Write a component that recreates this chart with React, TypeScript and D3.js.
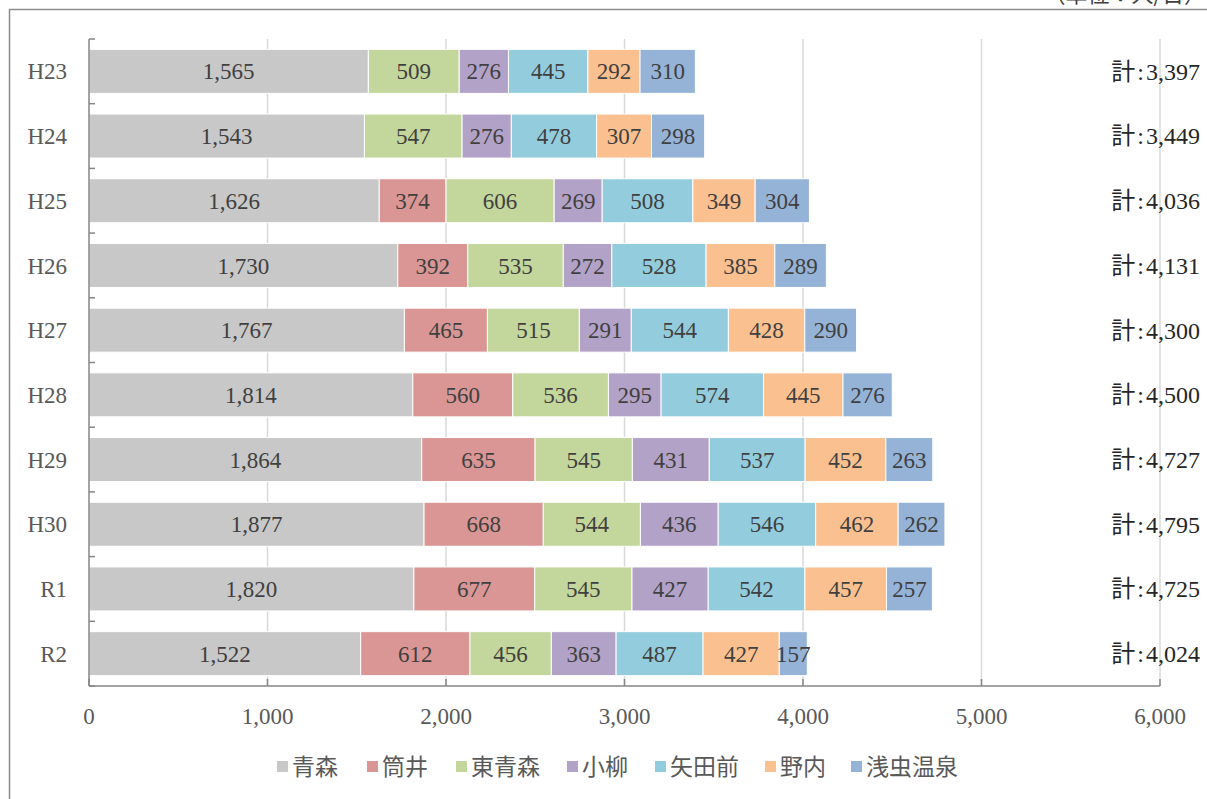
import React from "react";
import * as d3 from "d3";

const categories = ["H23", "H24", "H25", "H26", "H27", "H28", "H29", "H30", "R1", "R2"];
const seriesNames = ["青森", "筒井", "東青森", "小柳", "矢田前", "野内", "浅虫温泉"];
const seriesColors = ["#c8c8c8", "#d99694", "#c3d69b", "#b3a2c7", "#93cddd", "#fac090", "#95b3d7"];
const aomori = [1565, 1543, 1626, 1730, 1767, 1814, 1864, 1877, 1820, 1522];
const tsutsui = [0, 0, 374, 392, 465, 560, 635, 668, 677, 612];
const higashiAomori = [509, 547, 606, 535, 515, 536, 545, 544, 545, 456];
const koyanagi = [276, 276, 269, 272, 291, 295, 431, 436, 427, 363];
const yadamae = [445, 478, 508, 528, 544, 574, 537, 546, 542, 487];
const nonai = [292, 307, 349, 385, 428, 445, 452, 462, 457, 427];
const asamushi = [310, 298, 304, 289, 290, 276, 263, 262, 257, 157];
const xTicks = [0, 1000, 2000, 3000, 4000, 5000, 6000];
const unitLabel = "（単位：人/日）";

const seriesValues = [aomori, tsutsui, higashiAomori, koyanagi, yadamae, nonai, asamushi];

export default function App() {
  const W = 1207, H = 799;
  const x = d3.scaleLinear().domain([0, 6000]).range([89, 1160]);
  const y = d3.scaleBand().domain(categories).range([39, 686]).paddingInner(0.32).paddingOuter(0.16);
  const rows = categories.map((c, i) => {
    const r: any = { cat: c };
    seriesNames.forEach((s, j) => (r[s] = seriesValues[j][i]));
    return r;
  });
  const stacked = d3.stack().keys(seriesNames)(rows);
  const fmt = d3.format(",");
  const serif = "'Liberation Serif', 'Times New Roman', 'Noto Sans CJK JP', serif";
  const step = y.step();
  const bandTop = 39;
  const boundaries = d3.range(categories.length + 1).map((i) => bandTop + i * step);

  const legendX = [277, 367, 456, 567, 655, 765, 851];

  return (
    <div style={{ position: "absolute", left: 0, top: 0 }}>
      <svg width={W} height={H} style={{ display: "block" }}>
        <rect x={0} y={0} width={W} height={H} fill="#fff" />
        <rect x={9.5} y={9.5} width={1300} height={900} fill="none" stroke="#8c8c8c" strokeWidth={1.5} />
        <text x={1206} y={2} textAnchor="end" fontFamily="'Noto Sans CJK JP', sans-serif" fontSize={22} fill="#404040">
          {unitLabel}
        </text>
        {/* gridlines */}
        {xTicks.slice(1).map((t) => (
          <line key={t} x1={x(t)} x2={x(t)} y1={39} y2={686} stroke="#d9d9d9" strokeWidth={1.5} />
        ))}
        {/* bars */}
        {stacked.map((layer, j) => (
          <g key={layer.key}>
            {layer.map((d: any, i: number) => {
              const v = d[1] - d[0];
              if (v <= 0) return null;
              const bx = x(d[0]);
              const bw = x(d[1]) - x(d[0]);
              const by = y(categories[i])!;
              const bh = y.bandwidth();
              return (
                <g key={i}>
                  <rect x={bx} y={by} width={bw} height={bh} fill={seriesColors[j]} stroke="#fff" strokeWidth={1} />
                  <text
                    x={bx + bw / 2}
                    y={by + bh / 2}
                    dy="0.35em"
                    textAnchor="middle"
                    fontFamily={serif}
                    fontSize={23}
                    fill="#404040"
                  >
                    {fmt(v)}
                  </text>
                </g>
              );
            })}
          </g>
        ))}
        {/* totals */}
        {categories.map((c, i) => {
          const total = seriesValues.reduce((a, s) => a + s[i], 0);
          return (
            <text
              key={c}
              x={1200}
              y={y(c)! + y.bandwidth() / 2}
              dy="0.35em"
              textAnchor="end"
              fontFamily={serif}
              fontSize={24}
              fill="#262626"
            >
              <tspan>計</tspan>
              <tspan dx={2}>:</tspan>
              <tspan dx={2}>{fmt(total)}</tspan>
            </text>
          );
        })}
        {/* y axis */}
        <line x1={89} x2={89} y1={39} y2={686} stroke="#868686" strokeWidth={1.5} />
        {boundaries.map((b, i) => (
          <line key={i} x1={89} x2={95} y1={b} y2={b} stroke="#868686" strokeWidth={1.5} />
        ))}
        {categories.map((c) => (
          <text
            key={c}
            x={67}
            y={y(c)! + y.bandwidth() / 2}
            dy="0.35em"
            textAnchor="end"
            fontFamily={serif}
            fontSize={23}
            fill="#595959"
          >
            {c}
          </text>
        ))}
        {/* x axis */}
        <line x1={89} x2={1160} y1={686} y2={686} stroke="#868686" strokeWidth={1.5} />
        {xTicks.map((t) => (
          <g key={t}>
            <line x1={x(t)} x2={x(t)} y1={679} y2={686} stroke="#868686" strokeWidth={1.5} />
            <text x={x(t)} y={716} dy="0.35em" textAnchor="middle" fontFamily={serif} fontSize={23} fill="#595959">
              {fmt(t)}
            </text>
          </g>
        ))}
        {/* legend */}
        {seriesNames.map((s, j) => (
          <g key={s}>
            <rect x={legendX[j]} y={761} width={11} height={11} fill={seriesColors[j]} />
            <text
              x={legendX[j] + 15}
              y={766.5}
              dy="0.35em"
              fontFamily="'Noto Sans CJK JP', sans-serif"
              fontSize={23}
              fill="#595959"
            >
              {s}
            </text>
          </g>
        ))}
      </svg>
    </div>
  );
}
